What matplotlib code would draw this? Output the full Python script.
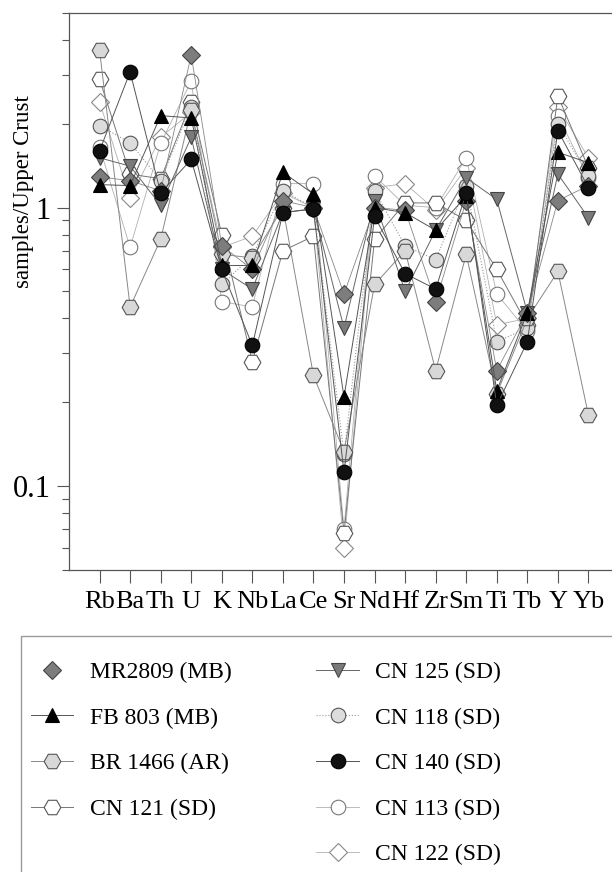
import matplotlib
matplotlib.use("Agg")
import matplotlib.pyplot as plt
from matplotlib.lines import Line2D
from matplotlib.patches import Rectangle

plt.rcParams['font.family'] = ['Liberation Serif', 'DejaVu Serif']

elements = ['Rb', 'Ba', 'Th', 'U', 'K', 'Nb', 'La', 'Ce', 'Sr', 'Nd', 'Hf', 'Zr', 'Sm', 'Ti', 'Tb', 'Y', 'Yb']

# normalised to upper crust
mr2809 = [1.29, 1.25, 1.15, 3.53, 0.73, 0.60, 1.06, 1.00, 0.49, 1.00, 0.98, 0.46, 1.06, 0.26, 0.42, 1.06, 1.20]
fb803 = [1.21, 1.20, 2.14, 2.10, 0.62, 0.62, 1.34, 1.12, 0.209, 1.00, 0.96, 0.83, 1.10, 0.22, 0.42, 1.58, 1.45]
br1466 = [3.68, 0.44, 0.77, 2.25, 0.68, 0.66, 1.00, 0.25, 0.133, 0.53, 0.70, 0.26, 0.68, 0.215, 0.40, 0.59, 0.18]
cn121 = [2.89, 1.32, 1.27, 2.39, 0.80, 0.28, 0.70, 0.79, 0.068, 0.77, 1.04, 1.04, 0.90, 0.60, 0.38, 2.52, 1.39]
cn125 = [1.51, 1.41, 1.02, 1.79, 0.60, 0.51, 0.96, 0.99, 0.37, 1.06, 0.50, 0.83, 1.28, 1.07, 0.42, 1.32, 0.92]
cn118 = [1.97, 1.71, 1.25, 2.30, 0.53, 0.67, 1.15, 1.00, 0.13, 1.15, 0.73, 0.65, 1.20, 0.33, 0.37, 2.00, 1.30]
cn140 = [1.60, 3.07, 1.13, 1.49, 0.60, 0.32, 0.96, 0.99, 0.112, 0.93, 0.58, 0.51, 1.13, 0.195, 0.33, 1.89, 1.18]
cn113 = [1.65, 0.72, 1.70, 2.85, 0.46, 0.44, 1.22, 1.22, 0.070, 1.30, 1.02, 1.00, 1.51, 0.49, 0.36, 2.14, 1.28]
cn122 = [2.40, 1.08, 1.79, 2.20, 0.72, 0.79, 1.13, 1.00, 0.060, 1.18, 1.22, 0.98, 1.39, 0.38, 0.40, 2.30, 1.51]

x = list(range(len(elements)))

fig = plt.figure(figsize=(6.12, 8.72), dpi=100)
ax = fig.add_axes([69 / 612, 1 - 570 / 872, 550 / 612, 557 / 872])

edge = '#555555'
# lines drawn under the markers
ax.plot(x, cn122, '-', color='#b0b0b0', lw=0.6, marker='D', ms=9, mfc='white', mec='#888888', mew=0.8,
        label='CN 122 (SD)', zorder=2)
ax.plot(x, cn113, '-', color='#b0b0b0', lw=0.6, marker='o', ms=10.5, mfc='white', mec='#777777', mew=0.8,
        label='CN 113 (SD)', zorder=2)
ax.plot(x, cn121, '-', color='#777777', lw=0.7, marker='H', ms=12, mfc='white', mec=edge, mew=0.8,
        label='CN 121 (SD)', zorder=2)
ax.plot(x, cn118, ':', color='#999999', lw=0.8, marker='o', ms=10.5, mfc='#dcdcdc', mec=edge, mew=0.8,
        label='CN 118 (SD)', zorder=2)
ax.plot(x, br1466, '-', color='#888888', lw=0.7, marker='H', ms=12, mfc='#d8d8d8', mec=edge, mew=0.8,
        label='BR 1466 (AR)', zorder=2)
ax.plot(x, cn125, '-', color='#666666', lw=0.7, marker='v', ms=10.5, mfc='#7a7a7a', mec='#444444', mew=0.8,
        label='CN 125 (SD)', zorder=3)
ax.plot(x, mr2809, '-', color='#888888', lw=0.6, zorder=2)
ax.plot(x, mr2809, linestyle='none', marker='D', ms=9, mfc='#7d7d7d', mec='#444444', mew=0.8,
        label='MR2809 (MB)', zorder=3)
ax.plot(x, fb803, '-', color='#555555', lw=0.7, marker='^', ms=10.5, mfc='black', mec='black', mew=0.8,
        label='FB 803 (MB)', zorder=3)
ax.plot(x, cn140, '-', color='#555555', lw=0.7, marker='o', ms=10.5, mfc='#111111', mec='black', mew=0.8,
        label='CN 140 (SD)', zorder=3)

ax.set_yscale('log')
ax.set_ylim(0.05, 5)
ax.set_xlim(-1, 17)
ax.set_xticks(x)
ax.set_xticklabels(elements, fontsize=19)
ax.set_yticks([0.1, 1])
ax.set_yticklabels(['0.1', '1'], fontsize=22)
ax.tick_params(axis='both', which='major', direction='out', length=9, width=0.8, color='#555555', pad=4)
ax.tick_params(axis='y', which='minor', direction='out', length=5, width=0.8, color='#555555')
ax.tick_params(axis='x', pad=6)
for s in ['left', 'bottom', 'top']:
    ax.spines[s].set_color('#555555')
    ax.spines[s].set_linewidth(0.9)
ax.spines['right'].set_visible(False)

fig.text(24 / 612, 1 - 192 / 872, 'samples/Upper Crust', rotation=90, fontsize=16.5,
         ha='center', va='center')

# legend: four entries left, five right
h = {l.get_label(): l for l in ax.get_lines()}
blank = Line2D([], [], linestyle='none', marker=None)
order = ['MR2809 (MB)', 'FB 803 (MB)', 'BR 1466 (AR)', 'CN 121 (SD)', None,
         'CN 125 (SD)', 'CN 118 (SD)', 'CN 140 (SD)', 'CN 113 (SD)', 'CN 122 (SD)']
handles = [h[k] if k else blank for k in order]
labels = [k if k else '' for k in order]
fig.add_artist(Rectangle((21 / 612, -0.01), 1.0, 1 - 636 / 872 + 0.01, transform=fig.transFigure,
                         fill=False, edgecolor='#999999', lw=1.0))
fig.legend(handles, labels, loc='upper left', bbox_to_anchor=(14 / 612, 1 - 645 / 872), ncol=2,
           frameon=False, fontsize=17, handlelength=1.8, handletextpad=0.7, columnspacing=3.6,
           labelspacing=1.02, borderpad=0.2)

fig.savefig('out.png', dpi=100)
